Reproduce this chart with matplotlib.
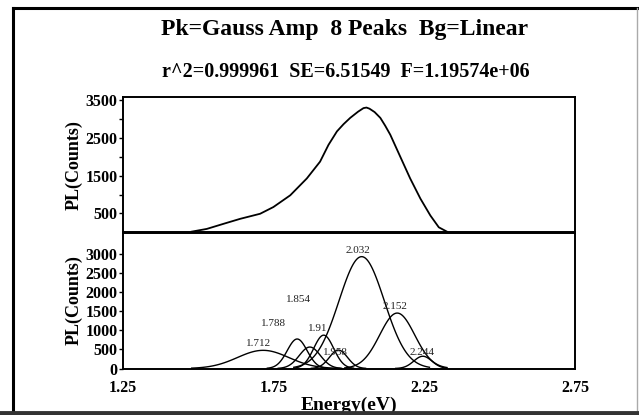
import numpy as np
import matplotlib
matplotlib.use("Agg")
import matplotlib.pyplot as plt
from matplotlib.lines import Line2D

plt.rcParams['font.family'] = ['Liberation Serif', 'DejaVu Serif']

energy = [1.478, 1.528, 1.583, 1.639, 1.705, 1.749, 1.805, 1.860, 1.904, 1.932,
          1.960, 1.982, 2.004, 2.030, 2.048, 2.058, 2.068, 2.085, 2.104, 2.120,
          2.137, 2.170, 2.203, 2.237, 2.270, 2.298, 2.325]
counts = [18, 90, 224, 358, 492, 670, 982, 1429, 1875, 2321,
          2678, 2870, 3036, 3200, 3295, 3310, 3280, 3190, 3036, 2830,
          2589, 2008, 1429, 893, 446, 133, 18]

# fitted gaussian peaks (bottom panel)
peak_center = [1.715, 1.828, 1.870, 1.916, 1.965, 2.042, 2.160, 2.245]
peak_amp = [474, 770, 560, 870, 480, 2920, 1447, 320]
peak_width = [0.085, 0.033, 0.035, 0.033, 0.030, 0.075, 0.058, 0.030]

# peak labels and where they sit
label_text = ['1.712', '1.788', '1.854', '1.91', '1.958', '2.032', '2.152', '2.244']
label_x = [1.699, 1.748, 1.831, 1.895, 1.954, 2.031, 2.154, 2.243]
label_y = [658, 1184, 1789, 1050, 420, 3079, 1630, 420]

fig = plt.figure(figsize=(6.39, 4.15), dpi=100)
W, H = 639, 415

def box(x0, y0, x1, y1):
    return [x0 / W, 1 - y1 / H, (x1 - x0) / W, (y1 - y0) / H]

ax1 = fig.add_axes(box(123, 97, 575, 232.5))
ax2 = fig.add_axes(box(123, 232.5, 575, 368.5))

for ax in (ax1, ax2):
    for s in ax.spines.values():
        s.set_linewidth(1.4)
    ax.set_xlim(1.25, 2.75)

# top panel
ax1.plot(energy, counts, color='black', lw=1.3)
ax1.set_ylim(-5, 3590)
ax1.set_yticks([500, 1500, 2500, 3500])
ax1.set_yticks([1000, 2000, 3000], minor=True)
ax1.set_xticks([])
ax1.tick_params(axis='y', which='both', direction='out', length=3, width=1, pad=1)
ax1.tick_params(axis='y', labelsize=11.5)
for t in ax1.get_yticklabels():
    t.set_fontweight('bold')
ax1.set_ylabel('PL(Counts)', fontsize=13, fontweight='bold')
ax1.yaxis.set_label_coords((83 - 123) / 452, 0.5)

# bottom panel: components
for c, a, w in zip(peak_center, peak_amp, peak_width):
    x = np.linspace(max(c - 3 * w, energy[0]), min(c + 3 * w, energy[-1]), 120)
    ax2.plot(x, a * np.exp(-(x - c) ** 2 / (2 * w ** 2)), color='black', lw=1.0)
for t, x, y in zip(label_text, label_x, label_y):
    ax2.text(x, y, t, fontsize=8, ha='center', va='center', color='#222222')

ax2.set_ylim(0, 3550)
ax2.set_yticks(range(0, 3001, 500))
ax2.set_xticks([1.25, 1.75, 2.25, 2.75])
ax2.set_xticklabels(['1.25', '1.75', '2.25', '2.75'])
ax2.tick_params(axis='y', direction='out', length=3, width=1, pad=1, labelsize=11.5)
ax2.tick_params(axis='x', length=0, pad=8, labelsize=11.5)
for t in ax2.get_yticklabels() + ax2.get_xticklabels():
    t.set_fontweight('bold')
ax2.set_ylabel('PL(Counts)', fontsize=13, fontweight='bold')
ax2.yaxis.set_label_coords((83 - 123) / 452, 0.5)
ax2.set_xlabel('Energy(eV)', fontsize=14, fontweight='bold')
ax2.xaxis.label.set_va('top')
ax2.xaxis.set_label_coords(0.5, -(397 - 368.5) / 136)

# titles
fig.text(345 / W, 1 - 29 / H, 'Pk=Gauss Amp  8 Peaks  Bg=Linear',
         ha='center', va='center', fontsize=17, fontweight='bold')
fig.text(346 / W, 1 - 72 / H, 'r^2=0.999961  SE=6.51549  F=1.19574e+06',
         ha='center', va='center', fontsize=14.5, fontweight='bold')

# outer frame
fig.add_artist(Line2D([13 / W, 13 / W], [1 - 8 / H, 1 - 412 / H], color='black', lw=2.2))
fig.add_artist(Line2D([13 / W, 637 / W], [1 - 8 / H, 1 - 8 / H], color='black', lw=2.2))
fig.add_artist(Line2D([637 / W, 637 / W], [1 - 8 / H, 1 - 412 / H], color='#aaaaaa', lw=1))
fig.add_artist(Line2D([0, 1], [1 - 412.5 / H, 1 - 412.5 / H], color='#333333', lw=3.5, zorder=10))

fig.savefig('out.png', dpi=100)
